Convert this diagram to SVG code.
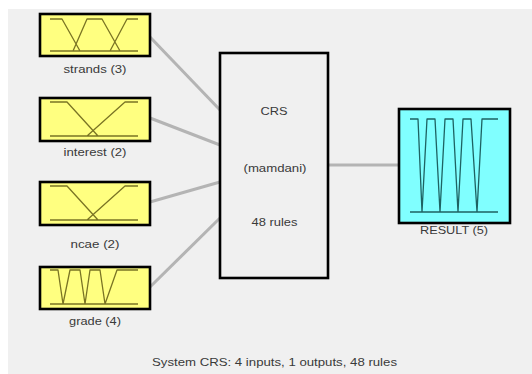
<svg xmlns="http://www.w3.org/2000/svg" width="532" height="374" viewBox="0 0 532 374">
<style>
.bg{fill:#f0f0f0}
.in{fill:#ffff80;stroke:#000;stroke-width:2.6}
.out{fill:#80ffff;stroke:#000;stroke-width:2.6}
.sys{fill:#f0f0f0;stroke:#000;stroke-width:2.6}
.mfi{fill:none;stroke:#7a7424;stroke-width:1.3;stroke-linejoin:round}
.mfo{fill:none;stroke:#1e6262;stroke-width:1.3;stroke-linejoin:round}
.conn{stroke:#b4b4b4;stroke-width:3;fill:none}
text{font-family:"Liberation Sans",Arial,sans-serif;font-size:11px;fill:#3a3a3a;text-anchor:middle}
</style>
<rect width="532" height="374" fill="#fff"/>
<rect class="bg" x="8" y="9" width="524" height="365"/>
<g id="connectors">
<line class="conn" x1="150" y1="37" x2="220" y2="110"/>
<line class="conn" x1="150" y1="118" x2="220" y2="145"/>
<line class="conn" x1="150" y1="202" x2="220" y2="182"/>
<line class="conn" x1="150" y1="287" x2="220" y2="218"/>
<line class="conn" x1="328" y1="165" x2="399" y2="165"/>
</g>
<g id="strands">
<rect class="in" x="40" y="14" width="110" height="42"/>
<path class="mfi" d="M50 51H138M50 19H62L80 51M73 51L87 19H102L120 51M110 51L127 19H138"/>
<text x="95" y="73" textLength="63" lengthAdjust="spacingAndGlyphs">strands (3)</text>
</g>
<g id="interest">
<rect class="in" x="40" y="98" width="110" height="43"/>
<path class="mfi" d="M50 136H138M50 102H67L98 136M87 136L125 102H138"/>
<text x="95" y="156" textLength="63" lengthAdjust="spacingAndGlyphs">interest (2)</text>
</g>
<g id="ncae">
<rect class="in" x="40" y="182" width="110" height="43"/>
<path class="mfi" d="M50 220H138M50 186H67L98 220M87 220L125 186H138"/>
<text x="95" y="248" textLength="49" lengthAdjust="spacingAndGlyphs">ncae (2)</text>
</g>
<g id="grade">
<rect class="in" x="40" y="267" width="110" height="42"/>
<path class="mfi" d="M50 304H138M50 270H58L63 304M63 304L70 270H80L85 304M85 304L90 270H100L105 304M105 304L117 270H138"/>
<text x="95" y="325" textLength="52" lengthAdjust="spacingAndGlyphs">grade (4)</text>
</g>
<g id="CRS">
<rect class="sys" x="220" y="53" width="108" height="225"/>
<text x="274" y="115" textLength="27" lengthAdjust="spacingAndGlyphs">CRS</text>
<text x="275" y="172" textLength="63" lengthAdjust="spacingAndGlyphs">(mamdani)</text>
<text x="274.5" y="226" textLength="46" lengthAdjust="spacingAndGlyphs">48 rules</text>
</g>
<g id="RESULT">
<rect class="out" x="399" y="109" width="111" height="114"/>
<path class="mfo" d="M410 212H498M410 119H418L422 212M422 212L427 119H435L440 212M440 212L445 119H453L458 212M458 212L463 119H471L477 212M477 212L482 119H498"/>
<text x="454" y="234" textLength="68" lengthAdjust="spacingAndGlyphs">RESULT (5)</text>
</g>
<text x="274.5" y="366" textLength="245" lengthAdjust="spacingAndGlyphs">System CRS: 4 inputs, 1 outputs, 48 rules</text>
</svg>
